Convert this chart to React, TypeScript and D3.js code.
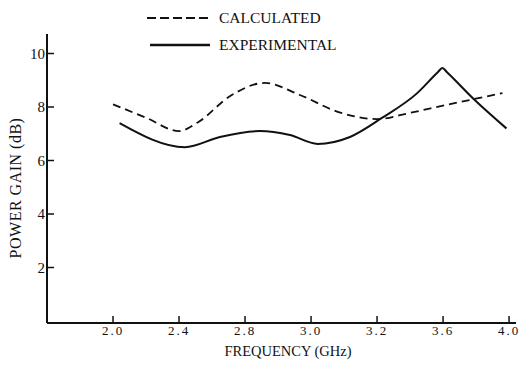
import React from 'react'
import * as d3 from 'd3'

// tick labels as printed on the axis (equally spaced)
const xTickLabels = ['2.0', '2.4', '2.8', '3.0', '3.2', '3.6', '4.0']
const yTicks = [2, 4, 6, 8, 10]

// x is given in tick positions (0 = "2.0", 6 = "4.0")
const calcX = [0, 0.5, 1.0, 1.3, 1.77, 2.3, 2.83, 3.43, 4.0, 4.5, 5.0, 5.9]
const calcY = [8.1, 7.6, 7.1, 7.45, 8.4, 8.9, 8.45, 7.8, 7.55, 7.78, 8.05, 8.52]

const expX = [0.1, 1.09, 1.62, 2.22, 2.68, 3.1, 3.59, 4.08, 4.6, 4.92, 4.99, 5.06, 5.48, 5.96]
const expY = [7.4, 6.5, 6.88, 7.1, 6.95, 6.62, 6.88, 7.6, 8.5, 9.3, 9.46, 9.3, 8.26, 7.2]

const W = 523
const H = 369
const FONT = '"Liberation Serif", "DejaVu Serif", serif'
const INK = '#111'

export default function App() {
  const x = d3.scaleLinear().domain([-1, 6.09]).range([47, 515])
  const y = d3.scaleLinear().domain([0, 10]).range([321, 53.5])

  const line = d3
    .line<[number, number]>()
    .x(d => x(d[0]))
    .y(d => y(d[1]))
    .curve(d3.curveMonotoneX)

  const calc: [number, number][] = calcX.map((v, i) => [v, calcY[i]])
  const exp: [number, number][] = expX.map((v, i) => [v, expY[i]])

  const axisY = 323
  const axisX = 47

  return (
    <svg
      width={W}
      height={H}
      style={{ position: 'absolute', left: 0, top: 0, background: '#fff' }}
      fontFamily={FONT}
    >
      <rect width={W} height={H} fill="#fff" />

      {/* axes */}
      <line x1={axisX} x2={axisX} y1={34} y2={axisY} stroke={INK} strokeWidth={2} />
      <line x1={axisX} x2={516} y1={axisY} y2={axisY} stroke={INK} strokeWidth={1.8} />

      {yTicks.map(t => (
        <g key={t}>
          <line x1={axisX} x2={axisX + 7} y1={y(t)} y2={y(t)} stroke={INK} strokeWidth={1.5} />
          <text x={axisX - 2} y={y(t)} dy="0.35em" textAnchor="end" fontSize={15} fill={INK}>
            {t}
          </text>
        </g>
      ))}

      {xTickLabels.map((lab, i) => (
        <g key={lab}>
          <line x1={x(i)} x2={x(i)} y1={axisY} y2={axisY - 7} stroke={INK} strokeWidth={1.5} />
          <text x={x(i)} y={axisY + 7} dy="0.35em" textAnchor="middle" fontSize={13} letterSpacing={2} fill={INK}>
            {lab}
          </text>
        </g>
      ))}

      <text x={288} y={351} dy="0.35em" textAnchor="middle" fontSize={14.5} fill={INK}>
        FREQUENCY (GHz)
      </text>
      <text
        transform={`translate(15,188) rotate(-90)`}
        dy="0.35em"
        textAnchor="middle"
        fontSize={16}
        letterSpacing={0.5}
        fill={INK}
      >
        POWER GAIN (dB)
      </text>

      {/* series */}
      <path d={line(calc) || ''} fill="none" stroke={INK} strokeWidth={1.8} strokeDasharray="8,5" />
      <path d={line(exp) || ''} fill="none" stroke={INK} strokeWidth={2} />

      {/* legend */}
      <line x1={147} x2={210} y1={18} y2={18} stroke={INK} strokeWidth={1.8} strokeDasharray="9,4" />
      <text x={219} y={18} dy="0.35em" fontSize={15.5} fill={INK}>CALCULATED</text>
      <line x1={150} x2={210} y1={45} y2={45} stroke={INK} strokeWidth={2.5} />
      <text x={219} y={45} dy="0.35em" fontSize={15.5} fill={INK}>EXPERIMENTAL</text>
    </svg>
  )
}
